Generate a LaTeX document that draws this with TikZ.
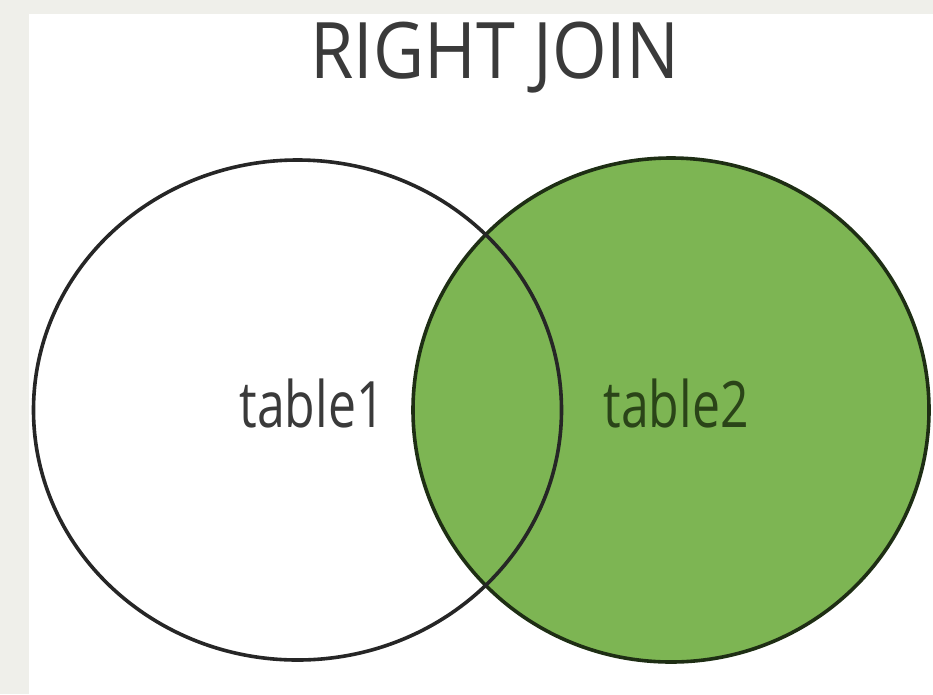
\documentclass[tikz,border=0pt]{standalone}
\usepackage{fontspec}
\setmainfont{Open Sans}
\usetikzlibrary{shapes.geometric}
\definecolor{bggray}{HTML}{EFEFEA}
\definecolor{joingreen}{HTML}{7DB553}
\definecolor{darkline}{HTML}{1E2E14}
\definecolor{txtgray}{HTML}{3A3A3A}
\definecolor{txtgreen}{HTML}{2A4418}
\tikzset{
  setcircle/.style={ellipse, inner sep=0pt, line width=3.6pt},
  label/.style={inner sep=0pt, anchor=center}
}
\begin{document}
\begin{tikzpicture}[x=1pt,y=-1pt]
\useasboundingbox (0,0) rectangle (933,694);
\fill[bggray] (0,0) rectangle (933,694);
\fill[white] (29,14) rectangle (933,694);
\node[setcircle, fill=white, minimum width=528pt, minimum height=500pt] (t1) at (297.5,410) {};
\node[setcircle, fill=joingreen, draw=darkline, minimum width=516pt, minimum height=504pt] (t2) at (671,410) {};
\node[setcircle, draw=black!85, minimum width=528pt, minimum height=500pt] (t1o) at (297.5,410) {};
\node[label, font=\fontsize{78}{90}\selectfont, text=txtgray, xscale=0.9, transform shape] (title) at (495,58) {RIGHT JOIN};
\node[label, font=\fontsize{64}{70}\selectfont, text=txtgray, xscale=0.78, transform shape] (l1) at (312,403) {table1};
\node[label, font=\fontsize{64}{70}\selectfont, text=txtgreen, xscale=0.78, transform shape] (l2) at (676,403) {table2};
\end{tikzpicture}
\end{document}
